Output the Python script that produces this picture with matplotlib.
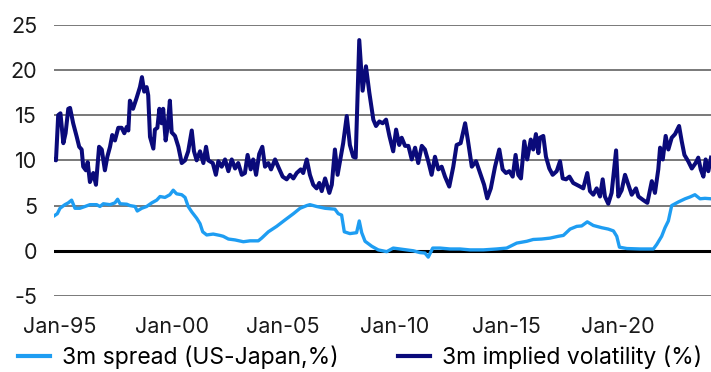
import matplotlib
matplotlib.use("Agg")
import matplotlib.pyplot as plt
import matplotlib.transforms as mtransforms

# decimal years, values
vol_dates = [
    1995.00, 1995.09, 1995.19, 1995.29, 1995.42, 1995.52, 1995.64, 1995.72, 1995.86, 1996.02,
    1996.13, 1996.24, 1996.31, 1996.43, 1996.51, 1996.61, 1996.76, 1996.88, 1997.02, 1997.14,
    1997.28, 1997.39, 1997.51, 1997.61, 1997.73, 1997.88, 1998.03, 1998.15, 1998.26, 1998.33,
    1998.40, 1998.54, 1998.70, 1998.85, 1998.94, 1999.04, 1999.15, 1999.22, 1999.30, 1999.45,
    1999.52, 1999.63, 1999.72, 1999.82, 1999.89, 2000.00, 2000.09, 2000.19, 2000.27, 2000.42,
    2000.57, 2000.72, 2000.87, 2001.01, 2001.17, 2001.27, 2001.39, 2001.54, 2001.69, 2001.81,
    2001.91, 2002.11, 2002.25, 2002.36, 2002.51, 2002.66, 2002.81, 2002.96, 2003.11, 2003.25,
    2003.41, 2003.55, 2003.67, 2003.81, 2003.92, 2004.05, 2004.19, 2004.33, 2004.45, 2004.60,
    2004.72, 2004.90, 2005.04, 2005.24, 2005.42, 2005.57, 2005.72, 2005.87, 2006.05, 2006.16,
    2006.32, 2006.46, 2006.61, 2006.76, 2006.88, 2006.99, 2007.14, 2007.33, 2007.44, 2007.58,
    2007.70, 2007.84, 2007.95, 2008.11, 2008.25, 2008.40, 2008.51, 2008.67, 2008.82, 2008.97,
    2009.12, 2009.30, 2009.42, 2009.57, 2009.72, 2009.87, 2010.02, 2010.19, 2010.32, 2010.46,
    2010.57, 2010.72, 2010.87, 2011.02, 2011.17, 2011.31, 2011.47, 2011.61, 2011.76, 2011.91,
    2012.06, 2012.21, 2012.36, 2012.51, 2012.70, 2012.88, 2013.03, 2013.21, 2013.41, 2013.53,
    2013.71, 2013.90, 2014.08, 2014.26, 2014.40, 2014.56, 2014.75, 2014.94, 2015.09, 2015.24,
    2015.39, 2015.54, 2015.67, 2015.79, 2015.91, 2016.06, 2016.19, 2016.35, 2016.46, 2016.58,
    2016.69, 2016.76, 2016.91, 2017.03, 2017.18, 2017.33, 2017.51, 2017.66, 2017.78, 2017.93,
    2018.08, 2018.25, 2018.41, 2018.56, 2018.70, 2018.88, 2019.00, 2019.15, 2019.30, 2019.45,
    2019.57, 2019.67, 2019.82, 2019.97, 2020.17, 2020.27, 2020.42, 2020.57, 2020.72, 2020.87,
    2021.06, 2021.17, 2021.39, 2021.57, 2021.77, 2021.91, 2022.06, 2022.14, 2022.26, 2022.39,
    2022.51, 2022.66, 2022.81, 2022.99, 2023.11, 2023.23, 2023.40, 2023.56, 2023.73, 2023.85,
    2023.96, 2024.08, 2024.18, 2024.30, 2024.42,
]
vol_values = [
    10.1, 10.0, 15.0, 15.2, 11.9, 13.0, 15.7, 15.8, 14.1, 12.6,
    11.5, 11.2, 9.3, 8.9, 9.8, 7.6, 8.6, 7.3, 11.5, 11.2,
    8.9, 10.4, 11.5, 12.8, 12.2, 13.6, 13.6, 13.0, 13.7, 13.3,
    16.6, 15.7, 16.9, 18.1, 19.2, 17.6, 18.1, 17.2, 12.6, 11.3,
    13.4, 13.6, 15.7, 14.1, 15.7, 12.2, 13.7, 16.6, 13.1, 12.7,
    11.5, 9.7, 10.0, 11.0, 13.3, 11.0, 10.0, 11.0, 9.7, 11.5,
    10.0, 9.7, 8.4, 9.9, 9.3, 10.1, 8.8, 10.1, 9.1, 9.7,
    8.4, 8.6, 10.6, 9.0, 10.1, 8.4, 10.7, 11.5, 9.3, 9.7,
    9.0, 10.1, 9.3, 8.2, 7.9, 8.4, 8.0, 8.6, 9.0, 8.6,
    10.1, 8.4, 7.3, 6.9, 7.5, 6.6, 8.0, 6.4, 7.3, 11.2,
    8.4, 10.4, 11.9, 14.9, 11.7, 10.4, 10.3, 23.3, 17.7, 20.4,
    17.5, 14.5, 13.8, 14.3, 14.1, 14.5, 12.7, 11.0, 13.4, 11.7,
    12.5, 11.6, 11.6, 10.1, 11.4, 9.7, 11.6, 11.2, 9.9, 8.4,
    10.4, 9.0, 9.3, 8.2, 7.1, 9.3, 11.7, 11.9, 14.1, 12.3,
    9.3, 9.9, 8.6, 7.3, 5.8, 6.9, 9.3, 11.2, 9.0, 8.6,
    8.8, 8.2, 10.6, 8.4, 8.0, 12.1, 10.1, 12.3, 11.2, 12.9,
    10.8, 12.5, 12.7, 10.4, 9.1, 8.4, 8.8, 9.9, 8.0, 7.9,
    8.2, 7.5, 7.3, 7.1, 6.9, 8.6, 6.6, 6.2, 6.9, 6.0,
    7.9, 6.0, 5.2, 6.4, 11.1, 6.0, 6.7, 8.4, 7.3, 6.2,
    6.9, 6.0, 5.6, 5.3, 7.7, 6.4, 9.0, 11.4, 10.1, 12.7,
    11.2, 12.5, 12.9, 13.8, 12.1, 10.6, 9.9, 9.1, 9.7, 10.3,
    9.0, 8.2, 10.1, 8.8, 10.3,
]

spread_dates = [
    1995.00, 1995.15, 1995.27, 1995.49, 1995.64, 1995.79, 1995.94, 1996.16, 1996.39, 1996.61,
    1996.91, 1997.06, 1997.21, 1997.51, 1997.73, 1997.85, 1997.96, 1998.26, 1998.40, 1998.63,
    1998.73, 1998.93, 1999.15, 1999.38, 1999.60, 1999.75, 1999.97, 2000.19, 2000.34, 2000.49,
    2000.72, 2000.87, 2001.01, 2001.17, 2001.39, 2001.54, 2001.66, 2001.84, 2002.13, 2002.43,
    2002.58, 2002.81, 2003.11, 2003.48, 2003.78, 2004.15, 2004.30, 2004.60, 2004.97, 2005.34,
    2005.72, 2006.02, 2006.32, 2006.46, 2006.76, 2007.14, 2007.58, 2007.73, 2007.88, 2008.00,
    2008.25, 2008.55, 2008.67, 2008.78, 2008.93, 2009.23, 2009.52, 2009.90, 2010.19, 2010.49,
    2010.79, 2011.09, 2011.39, 2011.61, 2011.76, 2011.96, 2012.29, 2012.73, 2013.18, 2013.63,
    2014.23, 2014.82, 2015.27, 2015.72, 2016.17, 2016.46, 2016.84, 2017.21, 2017.58, 2017.81,
    2018.11, 2018.41, 2018.63, 2018.88, 2019.15, 2019.53, 2019.82, 2020.05, 2020.20, 2020.32,
    2020.65, 2021.24, 2021.84, 2021.99, 2022.21, 2022.36, 2022.51, 2022.66, 2022.96, 2023.26,
    2023.48, 2023.70, 2023.93, 2024.15, 2024.42,
]
spread_values = [
    3.85, 4.1, 4.7, 5.1, 5.3, 5.6, 4.7, 4.7, 4.9, 5.1,
    5.1, 4.9, 5.2, 5.1, 5.3, 5.7, 5.2, 5.15, 5.0, 4.9,
    4.4, 4.7, 4.9, 5.3, 5.6, 6.0, 5.9, 6.2, 6.7, 6.3,
    6.2, 5.9, 4.9, 4.3, 3.6, 3.0, 2.1, 1.75, 1.85, 1.7,
    1.6, 1.3, 1.2, 1.0, 1.1, 1.1, 1.4, 2.1, 2.7, 3.4,
    4.1, 4.7, 5.0, 5.1, 4.9, 4.7, 4.6, 4.1, 3.95, 2.1,
    1.9, 2.0, 3.3, 2.0, 1.05, 0.5, 0.1, -0.1, 0.3, 0.2,
    0.1, 0.0, -0.2, -0.25, -0.7, 0.3, 0.3, 0.2, 0.2, 0.1,
    0.1, 0.2, 0.3, 0.85, 1.05, 1.25, 1.3, 1.4, 1.6, 1.7,
    2.4, 2.7, 2.75, 3.2, 2.8, 2.55, 2.4, 2.2, 1.6, 0.4,
    0.25, 0.2, 0.2, 0.7, 1.6, 2.55, 3.3, 5.0, 5.4, 5.75,
    5.95, 6.2, 5.75, 5.8, 5.75,
]

tick_years = [1995, 2000, 2005, 2010, 2015, 2020]
tick_labels = ["Jan-95", "Jan-00", "Jan-05", "Jan-10", "Jan-15", "Jan-20"]
y_ticks = [-5, 0, 5, 10, 15, 20, 25]

plt.rcParams["font.family"] = ["Inter", "DejaVu Sans"]

fig = plt.figure(figsize=(7.11, 3.72), dpi=100)
ax = fig.add_axes([0.0759, 0.2043, 0.9241, 0.7293])

for y in y_ticks:
    if y == 0:
        ax.axhline(y, color="black", lw=2.2, zorder=2)
    else:
        ax.axhline(y, color="#555555", lw=1.1, zorder=1)

ax.plot(spread_dates, spread_values, color="#1e9df2", lw=2.4, zorder=3,
        label="3m spread (US-Japan,%)")
ax.plot(vol_dates, vol_values, color="#0a0a7a", lw=2.9, zorder=4,
        label="3m implied volatility (%)")

ax.set_xlim(1995.0, 2024.42)
ax.set_ylim(-5, 25)
ax.set_yticks(y_ticks)
ax.set_yticklabels([str(v) for v in y_ticks])
ax.set_xticks(tick_years)
ax.set_xticklabels(tick_labels)
ax.tick_params(axis="both", length=0, labelsize=15.5, colors="#1a1a1a")
ax.tick_params(axis="y", pad=12)
ax.tick_params(axis="x", pad=15)

# category labels sit a little to the right of the January mark
shift = mtransforms.ScaledTranslation(0.06, 0, fig.dpi_scale_trans)
for lab in ax.get_xticklabels():
    lab.set_transform(lab.get_transform() + shift)

for side in ["top", "right", "left", "bottom"]:
    ax.spines[side].set_visible(False)

handles, labels = ax.get_legend_handles_labels()
leg = fig.legend(handles, labels, loc="center left", bbox_to_anchor=(0.025, 0.04),
                 ncol=2, frameon=False, fontsize=16.5, handlelength=1.4,
                 handletextpad=0.52, columnspacing=2.6, borderaxespad=0,
                 borderpad=0)
for line in leg.get_lines():
    line.set_linewidth(3.0)

fig.savefig("out.png", dpi=100)
